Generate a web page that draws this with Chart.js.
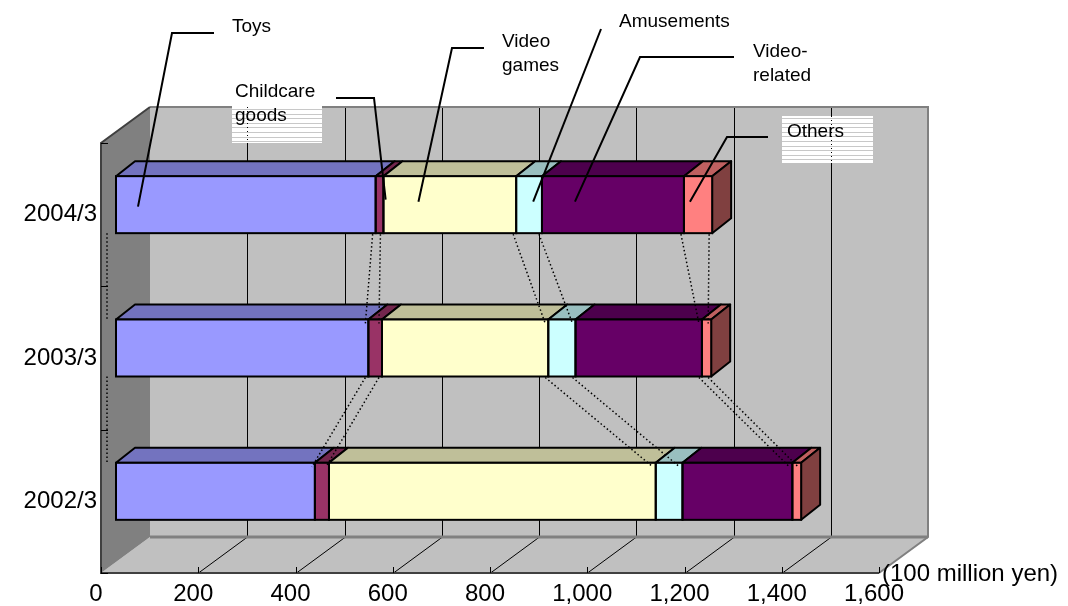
<!DOCTYPE html>
<html>
<head>
<meta charset="utf-8">
<title>Sales by category</title>
<script src="https://cdn.jsdelivr.net/npm/chart.js@4.4.1/dist/chart.umd.min.js"></script>
<style>
  html, body { margin: 0; padding: 0; background: #fff; }
  #wrap { width: 1068px; height: 606px; }
</style>
</head>
<body>
<div id="wrap"><canvas id="chart" width="1068" height="606"></canvas></div>
<script>
const categories = ["2004/3", "2003/3", "2002/3"];
const toys = [534, 519, 409];
const childcare = [16, 28, 29];
const videoGames = [273, 342, 672];
const amusements = [53, 56, 55];
const videoRelated = [292, 260, 226];
const others = [58, 19, 18];

const seriesNames = ["Toys", "Childcare goods", "Video games", "Amusements", "Video-related", "Others"];
const seriesData = [toys, childcare, videoGames, amusements, videoRelated, others];
const frontColors = ["#9999ff", "#993366", "#ffffcc", "#ccffff", "#660066", "#ff8080"];
const topColors = ["#7373bf", "#73264d", "#bfbf99", "#99bfbf", "#4d004d", "#bf6060"];
const sideColor = "#804040";

const xMin = 0, xMax = 1600, xStep = 200;
const unitLabel = "(100 million yen)";

const FONT = "'Liberation Sans', Arial, sans-serif";

// offsets of the 3D planes from the bar front faces
const depth = { front: [-15, 10], back: [34, -26], bar: [19, -15] };

const callouts = [
  { lines: ["Toys"], tx: 232, ty: 32, path: [[214, 33], [172, 33]], ds: 0, ax: 22, ay: 2 },
  { lines: ["Childcare", "goods"], tx: 235, ty: 97, path: [[336, 98], [374, 98]], ds: 1, ax: 10, ay: -5, box: [232, 78, 90, 65] },
  { lines: ["Video", "games"], tx: 502, ty: 47, path: [[484, 48], [452, 48]], ds: 2, ax: 35, ay: -3 },
  { lines: ["Amusements"], tx: 619, ty: 27, path: [[601, 29]], ds: 3, ax: 17, ay: -3 },
  { lines: ["Video-", "related"], tx: 753, ty: 57, path: [[734, 57], [640, 57]], ds: 4, ax: 33, ay: -3 },
  { lines: ["Others"], tx: 787, ty: 137, path: [[768, 137], [727, 137]], ds: 5, ax: 6, ay: -3, box: [782, 116, 91, 47] }
];

function rectOf(el) {
  const p = el.getProps(["x", "y", "base", "height"], true);
  return {
    l: Math.min(p.x, p.base), r: Math.max(p.x, p.base),
    t: p.y - p.height / 2, b: p.y + p.height / 2
  };
}

function poly(ctx, pts) {
  ctx.beginPath();
  ctx.moveTo(pts[0][0], pts[0][1]);
  for (let i = 1; i < pts.length; i++) ctx.lineTo(pts[i][0], pts[i][1]);
  ctx.closePath();
}

const scene3d = {
  id: "scene3d",
  beforeDraw(chart) {
    const { ctx, chartArea: a } = chart;
    const x = chart.scales.x;
    const [fx, fy] = depth.front, [bx, by] = depth.back;
    const x0 = x.getPixelForValue(xMin), x1 = x.getPixelForValue(xMax);
    const wallTop = a.top + by, floorBack = a.bottom + by, floorFront = a.bottom + fy;
    const ticks = x.ticks.map(t => t.value);

    ctx.save();
    ctx.fillStyle = "#c0c0c0";
    ctx.fillRect(x0 + bx, wallTop, x1 - x0, floorBack - wallTop);
    poly(ctx, [[x0 + fx, floorFront], [x0 + bx, floorBack], [x1 + bx, floorBack], [x1 + fx, floorFront]]);
    ctx.fill();

    ctx.fillStyle = "#808080";
    poly(ctx, [[x0 + fx, a.top + fy], [x0 + bx, wallTop], [x0 + bx, floorBack], [x0 + fx, floorFront]]);
    ctx.fill();

    // grid on back wall and floor
    ctx.strokeStyle = "#000";
    ctx.lineWidth = 1;
    ticks.forEach(v => {
      if (v === xMin || v === xMax) return;
      const px = Math.round(x.getPixelForValue(v)) + 0.5;
      ctx.beginPath();
      ctx.moveTo(px + bx, wallTop);
      ctx.lineTo(px + bx, floorBack);
      ctx.moveTo(px + bx, floorBack);
      ctx.lineTo(px + fx, floorFront);
      ctx.stroke();
    });

    // wall edges
    ctx.strokeStyle = "#808080";
    ctx.lineWidth = 2;
    ctx.beginPath();
    ctx.moveTo(x0 + bx, wallTop);
    ctx.lineTo(x1 + bx, wallTop);
    ctx.lineTo(x1 + bx, floorBack);
    ctx.lineTo(x1 + fx, floorFront);
    ctx.stroke();
    ctx.lineWidth = 3;
    ctx.beginPath();
    ctx.moveTo(x0 + bx, floorBack);
    ctx.lineTo(x1 + bx, floorBack);
    ctx.stroke();

    // front axes
    ctx.strokeStyle = "#404040";
    ctx.lineWidth = 2;
    ctx.beginPath();
    ctx.moveTo(x0 + bx, wallTop);
    ctx.lineTo(x0 + fx, a.top + fy);
    ctx.lineTo(x0 + fx, floorFront);
    ctx.lineTo(x1 + fx, floorFront);
    ctx.stroke();
    ctx.lineWidth = 1;
    ctx.strokeStyle = "#000";
    ctx.beginPath();
    ticks.forEach(v => {
      const px = Math.round(x.getPixelForValue(v) + fx) + 0.5;
      ctx.moveTo(px, floorFront);
      ctx.lineTo(px, floorFront - 6);
    });
    const step = (a.bottom - a.top) / categories.length;
    for (let k = 0; k <= categories.length; k++) {
      const py = Math.round(a.top + k * step + fy) + 0.5;
      ctx.moveTo(x0 + fx, py);
      ctx.lineTo(x0 + fx + 7, py);
    }
    ctx.stroke();

    // white label boxes sitting on the wall
    callouts.forEach(c => {
      if (!c.box) return;
      const [bxl, byt, bw, bh] = c.box;
      ctx.fillStyle = "#fff";
      ctx.fillRect(bxl, byt, bw, bh);
      ctx.strokeStyle = "#c8c8c8";
      ctx.lineWidth = 1;
      ctx.beginPath();
      for (let sy = Math.max(byt, wallTop) + 2; sy < byt + bh; sy += 4.6) {
        ctx.moveTo(bxl, Math.round(sy) + 0.5);
        ctx.lineTo(bxl + bw, Math.round(sy) + 0.5);
      }
      ctx.stroke();
      ctx.strokeStyle = "#000";
      ctx.setLineDash([1, 3]);
      ctx.beginPath();
      ticks.forEach(v => {
        const px = Math.round(x.getPixelForValue(v)) + 0.5 + bx;
        if (px > bxl && px < bxl + bw) {
          ctx.moveTo(px, Math.max(byt, wallTop));
          ctx.lineTo(px, byt + bh);
        }
      });
      ctx.stroke();
      ctx.setLineDash([]);
    });
    ctx.restore();
  },

  beforeDatasetsDraw(chart) {
    const ctx = chart.ctx;
    const [dx, dy] = depth.bar;
    const last = chart.data.datasets.length - 1;
    ctx.save();
    ctx.strokeStyle = "#000";
    ctx.lineWidth = 2;
    ctx.lineJoin = "round";
    chart.data.datasets.forEach((ds, i) => {
      chart.getDatasetMeta(i).data.forEach(el => {
        const r = rectOf(el);
        ctx.fillStyle = topColors[i];
        poly(ctx, [[r.l, r.t], [r.l + dx, r.t + dy], [r.r + dx, r.t + dy], [r.r, r.t]]);
        ctx.fill();
        ctx.stroke();
        if (i === last) {
          ctx.fillStyle = sideColor;
          poly(ctx, [[r.r, r.t], [r.r + dx, r.t + dy], [r.r + dx, r.b + dy], [r.r, r.b]]);
          ctx.fill();
          ctx.stroke();
        }
      });
    });
    ctx.restore();
  },

  afterDatasetsDraw(chart) {
    const ctx = chart.ctx;
    const metas = chart.data.datasets.map((ds, i) => chart.getDatasetMeta(i));
    ctx.save();

    // outlines of the front faces
    ctx.strokeStyle = "#000";
    ctx.lineWidth = 2;
    metas.forEach(m => m.data.forEach(el => {
      const r = rectOf(el);
      ctx.strokeRect(r.l, r.t, r.r - r.l, r.b - r.t);
    }));

    // series lines between the bars
    ctx.lineWidth = 1.5;
    ctx.setLineDash([1.5, 2.5]);
    ctx.beginPath();
    for (let c = 0; c < categories.length - 1; c++) {
      const up = metas.map(m => rectOf(m.data[c]));
      const lo = metas.map(m => rectOf(m.data[c + 1]));
      ctx.moveTo(up[0].l - 9, up[0].b);
      ctx.lineTo(lo[0].l - 9, lo[0].t);
      for (let k = 0; k < metas.length; k++) {
        ctx.moveTo(up[k].r - 3, up[k].b + 1);
        ctx.lineTo(lo[k].r - 3, lo[k].t + 4);
      }
    }
    ctx.stroke();
    ctx.setLineDash([]);

    // callouts
    ctx.lineWidth = 2;
    ctx.fillStyle = "#000";
    ctx.font = "19px " + FONT;
    ctx.textAlign = "left";
    ctx.textBaseline = "alphabetic";
    callouts.forEach(c => {
      const r = rectOf(metas[c.ds].data[0]);
      const ax = r.l + c.ax, ay = (r.t + r.b) / 2 + c.ay;
      ctx.beginPath();
      ctx.moveTo(c.path[0][0], c.path[0][1]);
      for (let i = 1; i < c.path.length; i++) ctx.lineTo(c.path[i][0], c.path[i][1]);
      ctx.lineTo(ax, ay);
      ctx.stroke();
      c.lines.forEach((t, j) => ctx.fillText(t, c.tx, c.ty + j * 24));
    });

    // unit label
    const x = chart.scales.x, a = chart.chartArea;
    ctx.font = "24px " + FONT;
    ctx.fillText(unitLabel, x.getPixelForValue(xMax) + depth.front[0] + 3, a.bottom + depth.front[1] + 8);
    ctx.restore();
  }
};

new Chart(document.getElementById("chart"), {
  type: "bar",
  data: {
    labels: categories,
    datasets: seriesNames.map((name, i) => ({
      label: name,
      data: seriesData[i],
      backgroundColor: frontColors[i],
      borderWidth: 0,
      barThickness: 57
    }))
  },
  options: {
    indexAxis: "y",
    responsive: false,
    animation: false,
    layout: { padding: { top: 133, right: 174, bottom: 0, left: 0 } },
    plugins: {
      legend: { display: false },
      tooltip: { enabled: false }
    },
    scales: {
      x: {
        stacked: true,
        min: xMin,
        max: xMax,
        grid: { display: false, drawTicks: false },
        border: { display: false },
        ticks: {
          stepSize: xStep,
          autoSkip: false,
          maxRotation: 0,
          labelOffset: -20,
          padding: 17,
          color: "#000",
          font: { family: FONT, size: 24 },
          callback: v => Number(v).toLocaleString("en-US")
        },
        afterFit: s => { s.height = 43; s.paddingLeft = 0; s.paddingRight = 0; }
      },
      y: {
        stacked: true,
        grid: { display: false, drawTicks: false },
        border: { display: false },
        ticks: {
          labelOffset: 10,
          padding: 19,
          color: "#000",
          font: { family: FONT, size: 24 }
        },
        afterFit: s => { s.width = 116; s.paddingTop = 0; s.paddingBottom = 0; }
      }
    }
  },
  plugins: [scene3d]
});
</script>
</body>
</html>
